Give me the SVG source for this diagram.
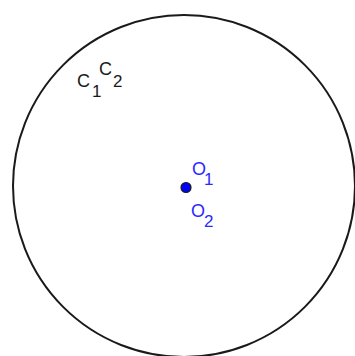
<svg xmlns="http://www.w3.org/2000/svg" width="355" height="356" viewBox="0 0 355 356">
<style>
.lbl{font-family:"Liberation Sans",Arial,sans-serif;font-size:18px}
.sub{font-family:"Liberation Sans",Arial,sans-serif;font-size:17px}
.blk{fill:#1a1a1a}
.blu{fill:#2a2aff}
</style>
<rect width="355" height="356" fill="#ffffff"/>
<g id="circle">
<circle cx="184" cy="186" r="171" fill="none" stroke="#1a1a1a" stroke-width="2"/>
<text class="lbl blk" x="77" y="87">C</text>
<text class="sub blk" x="92" y="97">1</text>
<text class="lbl blk" x="99" y="75">C</text>
<text class="sub blk" x="113" y="87">2</text>
</g>
<g id="center">
<circle cx="186" cy="187.5" r="5" fill="#0000ff" stroke="#1a1a1a" stroke-width="1.2"/>
<text class="lbl blu" x="192" y="175">O</text>
<text class="sub blu" x="204" y="185">1</text>
<text class="lbl blu" x="191" y="217">O</text>
<text class="sub blu" x="204" y="227">2</text>
</g>
</svg>
